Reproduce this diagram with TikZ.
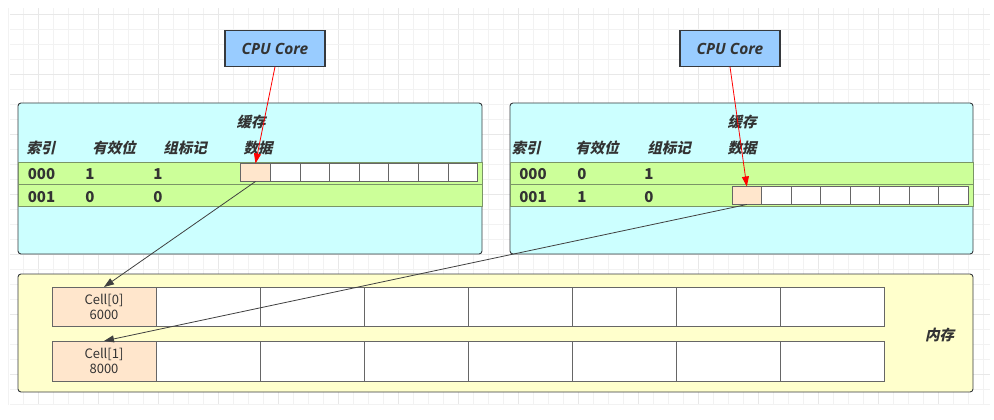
\documentclass[tikz,border=0pt]{standalone}
\usepackage{fontspec}
\setmainfont{Noto Sans CJK SC}
\newfontfamily\cjki{Noto Sans CJK SC}[FakeSlant=0.22]
\newfontfamily\cjk{Noto Sans CJK SC}
\newfontfamily\cpuf{Open Sans}
\usetikzlibrary{arrows.meta}
\definecolor{cpublue}{HTML}{99CCFF}
\definecolor{cachecyan}{HTML}{CCFFFF}
\definecolor{rowgreen}{HTML}{CCFF99}
\definecolor{peach}{HTML}{FFE6CC}
\definecolor{memyellow}{HTML}{FFFFCC}
\definecolor{edgedark}{HTML}{36393D}
\definecolor{edgegray}{HTML}{666666}
\definecolor{rowedge}{HTML}{7A9566}
\definecolor{txt}{HTML}{333333}
\begin{document}
\begin{tikzpicture}[x=1pt,y=-1pt,
  every node/.style={inner sep=0pt,outer sep=0pt},
  gridminor/.style={draw=black!5,line width=0.7pt},
  gridmajor/.style={draw=black!9,line width=0.7pt},
  cpubox/.style={draw=edgedark,fill=cpublue,line width=1.1pt,minimum width=100pt,minimum height=36.5pt,
    font=\cpuf\bfseries\itshape\fontsize{15.5}{18}\selectfont,text=txt},
  cachebox/.style={draw=edgedark,fill=cachecyan,line width=0.9pt,rounded corners=3pt,anchor=north west},
  membox/.style={draw=edgedark,fill=memyellow,line width=0.9pt,rounded corners=3pt,anchor=north west},
  rowbox/.style={draw=rowedge,fill=rowgreen,line width=0.9pt,anchor=north west,minimum height=22pt},
  datacell/.style={draw=edgegray,fill=white,line width=0.8pt,anchor=north west,minimum width=29.6pt,minimum height=18pt},
  memcell/.style={draw=edgegray,fill=white,line width=0.8pt,anchor=north west,minimum width=104pt},
  hotcell/.style={fill=peach},
  head/.style={font=\cjki\bfseries\fontsize{14.5}{17}\selectfont,text=txt},
  val/.style={font=\cjk\bfseries\fontsize{15}{17}\selectfont,text=txt},
  celltxt/.style={font=\cjk\fontsize{13}{15}\selectfont,text=txt,align=center},
  redarrow/.style={draw=red,line width=0.8pt,-{Triangle[length=10pt,width=7pt]}},
  grayarrow/.style={draw=black!75,line width=0.8pt,-{Triangle[length=10pt,width=7pt]}}
]
\useasboundingbox (0,0) rectangle (994,420);
% background grid
\foreach \i in {0,...,65}{
  \pgfmathsetmacro\gx{8.3+15*\i}
  \pgfmathtruncatemacro\gm{mod(\i,4)}
  \ifnum\gm=2 \draw[gridmajor] (\gx,8) -- (\gx,405); \else \draw[gridminor] (\gx,8) -- (\gx,405); \fi
}
\foreach \j in {0,...,26}{
  \pgfmathsetmacro\gy{14+15*\j}
  \pgfmathtruncatemacro\gm{mod(\j,4)}
  \ifnum\gm=0 \draw[gridmajor] (10,\gy) -- (990,\gy); \else \draw[gridminor] (10,\gy) -- (990,\gy); \fi
}
% CPU cores
\node[cpubox] (cpuL) at (275,48.5) {CPU Core};
\node[cpubox] (cpuR) at (730,48.5) {CPU Core};
% left cache
\node[cachebox,minimum width=464pt,minimum height=151pt] (cacheL) at (18,103) {};
\node[rowbox,minimum width=464pt] (rowL1) at (18,162) {};
\node[rowbox,minimum width=464pt] (rowL2) at (18,184) {};
\node[head] (hcL) at (251,122) {缓存};
\node[head] (hiL) at (41,148) {索引};
\node[head] (hvL) at (114,148) {有效位};
\node[head] (htL) at (185,148) {组标记};
\node[head] (hdL) at (258,148) {数据};
\node[val] (aL1) at (41.5,174) {000};
\node[val] (bL1) at (90,174) {1};
\node[val] (cL1) at (158,174) {1};
\node[val] (aL2) at (41.5,197) {001};
\node[val] (bL2) at (90,197) {0};
\node[val] (cL2) at (158,197) {0};
\foreach \i in {0,...,7}{
  \node[datacell] (L\i) at ({240.7+29.6*\i},163.5) {};
}
\node[datacell,hotcell] (L0) at (240.7,163.5) {};
% right cache
\node[cachebox,minimum width=463pt,minimum height=151pt] (cacheR) at (510,103) {};
\node[rowbox,minimum width=463pt] (rowR1) at (510,162) {};
\node[rowbox,minimum width=463pt] (rowR2) at (510,184) {};
\node[head] (hcR) at (742,122) {缓存};
\node[head] (hiR) at (526,148) {索引};
\node[head] (hvR) at (597,148) {有效位};
\node[head] (htR) at (669,148) {组标记};
\node[head] (hdR) at (742,148) {数据};
\node[val] (aR1) at (533,174) {000};
\node[val] (bR1) at (582,174) {0};
\node[val] (cR1) at (649,174) {1};
\node[val] (aR2) at (533,197) {001};
\node[val] (bR2) at (582,197) {1};
\node[val] (cR2) at (649,197) {0};
\foreach \i in {0,...,7}{
  \node[datacell] (R\i) at ({732+29.5*\i},186.5) {};
}
\node[datacell,hotcell] (R0) at (732,186.5) {};
% memory
\node[membox,minimum width=955pt,minimum height=118pt] (mem) at (18,274) {};
\foreach \i in {1,...,7}{
  \node[memcell,minimum height=39pt] (MA\i) at ({52+104*\i},287) {};
  \node[memcell,minimum height=40pt] (MB\i) at ({52+104*\i},341) {};
}
\node[memcell,hotcell,minimum height=39pt,celltxt] (MA0) at (52,287) {Cell[0]\\6000};
\node[memcell,hotcell,minimum height=40pt,celltxt] (MB0) at (52,341) {Cell[1]\\8000};
\node[head] (memlabel) at (939.5,335) {内存};
% connectors
\draw[redarrow] (cpuL.south) -- (L0.north);
\draw[redarrow] (cpuR.south) -- (R0.north);
\draw[grayarrow] (L0.south) -- (MA0.north);
\draw[grayarrow] (R0.south) -- (MB0.north);
\end{tikzpicture}
\end{document}
